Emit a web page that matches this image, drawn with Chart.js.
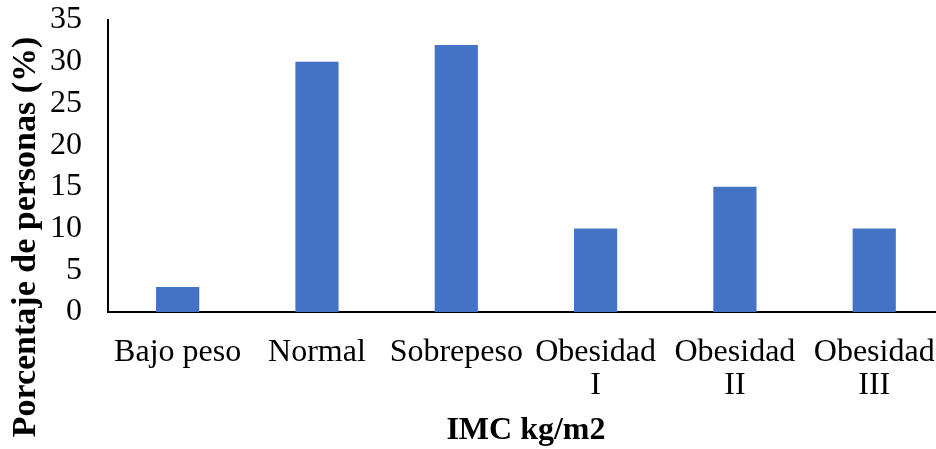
<!DOCTYPE html>
<html>
<head>
<meta charset="utf-8">
<script src="https://cdn.jsdelivr.net/npm/chart.js@4"></script>
<style>
  html, body { margin: 0; padding: 0; background: #fff; }
  #wrap { width: 936px; height: 449px; overflow: hidden; }
</style>
</head>
<body>
<div id="wrap"><canvas id="myChart" width="960" height="449"></canvas></div>
<script>
const categories = [
  "Bajo peso",
  "Normal",
  "Sobrepeso",
  ["Obesidad", "I"],
  ["Obesidad", "II"],
  ["Obesidad", "III"],
];
const percentages = [3, 30, 32, 10, 15, 10];
const yTicks = [0, 5, 10, 15, 20, 25, 30, 35];
const yTitle = "Porcentaje de personas (%)";
const xTitle = "IMC kg/m2";

const serif = "'Liberation Serif', 'Times New Roman', serif";

// y title is centred on the canvas, not on the plot, so draw it by hand
const yTitlePlugin = {
  id: "yTitle",
  afterDraw(chart) {
    const ctx = chart.ctx;
    ctx.save();
    ctx.translate(26, 237);
    ctx.rotate(-Math.PI / 2);
    ctx.font = "bold 34px " + serif;
    ctx.fillStyle = "#000";
    ctx.textAlign = "center";
    ctx.textBaseline = "middle";
    ctx.fillText(yTitle, 0, 0);
    ctx.restore();
  },
};

const ctx = document.getElementById("myChart").getContext("2d");

const chart = new Chart(ctx, {
  type: "bar",
  data: {
    labels: categories,
    datasets: [
      {
        label: "Porcentaje",
        data: percentages,
        backgroundColor: "#4472C4",
        borderWidth: 0,
        barPercentage: 0.31,
        categoryPercentage: 1,
      },
    ],
  },
  options: {
    responsive: false,
    animation: false,
    layout: { padding: { top: 20, right: 16, left: 0, bottom: 0 } },
    plugins: {
      legend: { display: false },
      tooltip: { enabled: false },
    },
    scales: {
      x: {
        grid: { display: false, drawTicks: false },
        border: { display: true, color: "#000", width: 2 },
        ticks: {
          color: "#000",
          padding: 24,
          maxRotation: 0,
          autoSkip: false,
          font: { family: serif, size: 32, lineHeight: 1.04 },
        },
        title: {
          display: true,
          text: xTitle,
          color: "#000",
          padding: { top: 0, bottom: 2 },
          font: { family: serif, size: 32, weight: "bold", lineHeight: 1 },
        },
        afterFit(scale) {
          scale.height = 449 - 312;
        },
      },
      y: {
        min: 0,
        max: 35,
        grid: { display: false, drawTicks: false },
        border: { display: true, color: "#000", width: 2 },
        afterBuildTicks(scale) {
          scale.ticks = yTicks.map((v) => ({ value: v }));
        },
        ticks: {
          color: "#000",
          padding: 26,
          autoSkip: false,
          font: { family: serif, size: 32 },
        },
        afterFit(scale) {
          scale.width = 108;
          scale.paddingTop = 0;
          scale.paddingBottom = 0;
        },
      },
    },
  },
  plugins: [yTitlePlugin],
});
</script>
</body>
</html>
